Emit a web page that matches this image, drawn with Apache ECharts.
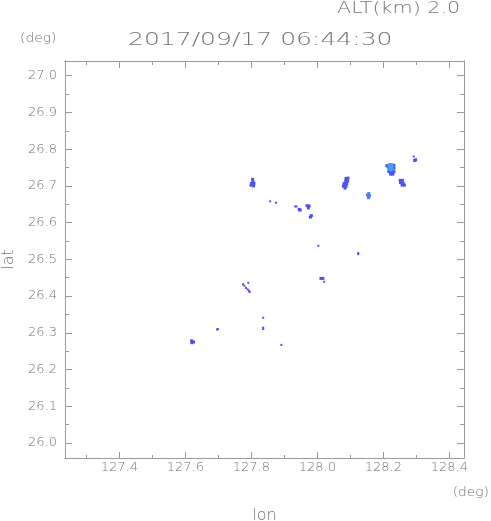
<!DOCTYPE html>
<html>
<head>
<meta charset="utf-8">
<script src="https://cdn.jsdelivr.net/npm/echarts@6/dist/echarts.min.js"></script>
<style>html,body{margin:0;padding:0;background:#fff;}#c{width:491px;height:521px;}</style>
</head>
<body>
<div id="c"></div>
<script>
// ---- data ----
const titleText = '2017/09/17 06:44:30';
const altText = 'ALT(km) 2.0';
const xMajorTicks = [127.4, 127.6, 127.8, 128.0, 128.2, 128.4];
const xMinorTicks = [127.3, 127.5, 127.7, 127.9, 128.1, 128.3];
const yMajorTicks = [26.0, 26.1, 26.2, 26.3, 26.4, 26.5, 26.6, 26.7, 26.8, 26.9, 27.0];
const yMinorTicks = [26.05, 26.15, 26.25, 26.35, 26.45, 26.55, 26.65, 26.75, 26.85, 26.95];
const lonRange = [127.2355, 128.4445];
const latRange = [25.959, 27.040];

// echo cells [lon, lat]
const darkCells = [
  [127.804,26.718],[127.805,26.711],[127.801,26.707],[127.808,26.707],[127.799,26.702],[127.807,26.700],
  [127.969,26.646],[127.975,26.645],[127.973,26.640],[127.982,26.619],[127.979,26.615],[127.945,26.636],[127.948,26.634],
  [128.087,26.720],[128.093,26.721],[128.086,26.713],[128.092,26.713],[128.081,26.706],[128.089,26.706],[128.079,26.699],[128.087,26.699],[128.084,26.694],
  [128.211,26.755],[128.232,26.756],[128.232,26.748],[128.217,26.739],[128.225,26.737],[128.232,26.739],[128.222,26.732],[128.229,26.732],
  [128.251,26.715],[128.258,26.715],[128.252,26.709],[128.260,26.707],[128.257,26.702],[128.264,26.702],
  [128.011,26.448],[128.017,26.448],
  [127.619,26.278],[127.625,26.275],[127.620,26.273],
  [128.298,26.771],[128.295,26.769]
];
const midCells = [
  [128.156,26.679],[128.152,26.675],[128.158,26.673],[128.155,26.668],
  [128.214,26.752],[128.229,26.745],[128.217,26.745]
];
const lightCells = [
  [128.219,26.758],[128.225,26.758],[128.220,26.751],[128.226,26.751],[128.223,26.744]
];
const smallDots = [
  [127.857,26.658],[127.875,26.654],[127.933,26.644],[127.937,26.644],
  [128.003,26.537],[128.124,26.517],[128.124,26.514],[128.021,26.439],
  [127.791,26.436],[127.775,26.432],[127.779,26.428],[127.784,26.422],[127.789,26.418],[127.793,26.414],[127.795,26.411],
  [127.836,26.341],[127.836,26.314],[127.836,26.310],[127.696,26.309],[127.699,26.310],
  [127.891,26.267],[128.292,26.780]
];

// ---- chart ----
const AX = '#9a9a9a';
const TX = '#747474';
const FONT = '"DejaVu Sans", sans-serif';
const FW = 200;

function xAx(pos, values, len, labels, extra) {
  return Object.assign({
    type: 'value', position: pos, min: lonRange[0], max: lonRange[1],
    axisLine: { show: true, onZero: false, lineStyle: { color: AX, width: 1 } },
    axisTick: { show: true, inside: true, length: len, customValues: values, lineStyle: { color: AX } },
    axisLabel: labels ? { show: true, customValues: values, margin: 3, color: TX, fontSize: 13, fontFamily: FONT, fontWeight: FW,
      formatter: v => Number(v).toFixed(1) } : { show: false },
    splitLine: { show: false }
  }, extra || {});
}
function yAx(pos, values, len, labels, extra) {
  return Object.assign({
    type: 'value', position: pos, min: latRange[0], max: latRange[1],
    axisLine: { show: true, onZero: false, lineStyle: { color: AX, width: 1 } },
    axisTick: { show: true, inside: true, length: len, customValues: values, lineStyle: { color: AX } },
    axisLabel: labels ? { show: true, customValues: values, margin: 8, color: TX, fontSize: 13, fontFamily: FONT, fontWeight: FW,
      formatter: v => Number(v).toFixed(1) } : { show: false },
    splitLine: { show: false }
  }, extra || {});
}

const chart = echarts.init(document.getElementById('c'), null, { renderer: 'canvas' });
function sc(data, color, size) {
  return { type: 'scatter', xAxisIndex: 0, yAxisIndex: 0, data: data, symbol: 'rect', symbolSize: size,
    itemStyle: { color: color, opacity: 1 }, silent: true, animation: false };
}
chart.setOption({
  animation: false,
  backgroundColor: '#fff',
  grid: { left: 65, top: 61, right: 27, bottom: 63, containLabel: false, outerBoundsMode: 'none' },
  xAxis: [
    xAx('bottom', xMajorTicks, 6, true, { name: 'lon', nameLocation: 'middle', nameGap: 50,
      nameTextStyle: { color: TX, fontSize: 16, fontFamily: FONT, fontWeight: FW } }),
    xAx('bottom', xMinorTicks, 3, false),
    xAx('top', xMajorTicks, 7, false),
    xAx('top', xMinorTicks, 4, false)
  ],
  yAxis: [
    yAx('left', yMajorTicks, 7, true, { name: 'lat', nameLocation: 'middle', nameGap: 47, nameRotate: 90,
      nameTextStyle: { color: TX, fontSize: 16, fontFamily: FONT, fontWeight: FW } }),
    yAx('left', yMinorTicks, 4, false),
    yAx('right', yMajorTicks, 7, false),
    yAx('right', yMinorTicks, 4, false)
  ],
  series: [
    sc(darkCells, '#4f4ff8', 3),
    sc(smallDots, '#4f4ff8', 2),
    sc(midCells, '#4d7cf8', 3),
    sc(lightCells, '#44a2f2', 3)
  ],
  graphic: { elements: [
    { type: 'text', x: 128, y: 40, scaleX: 1.39, silent: true,
      style: { text: titleText, fontSize: 18, fontFamily: FONT, fontWeight: FW, fill: TX, align: 'left', verticalAlign: 'middle' } },
    { type: 'text', x: 337, y: 9, scaleX: 1.38, silent: true,
      style: { text: altText, fontSize: 15, fontFamily: FONT, fontWeight: FW, fill: TX, align: 'left', verticalAlign: 'middle' } },
    { type: 'text', x: 20, y: 39, scaleX: 1.15, silent: true,
      style: { text: '(deg)', fontSize: 12, fontFamily: FONT, fontWeight: FW, fill: TX, align: 'left', verticalAlign: 'middle' } },
    { type: 'text', x: 489, y: 493, scaleX: 1.15, silent: true,
      style: { text: '(deg)', fontSize: 12, fontFamily: FONT, fontWeight: FW, fill: TX, align: 'right', verticalAlign: 'middle' } }
  ] }
});
</script>
</body>
</html>
